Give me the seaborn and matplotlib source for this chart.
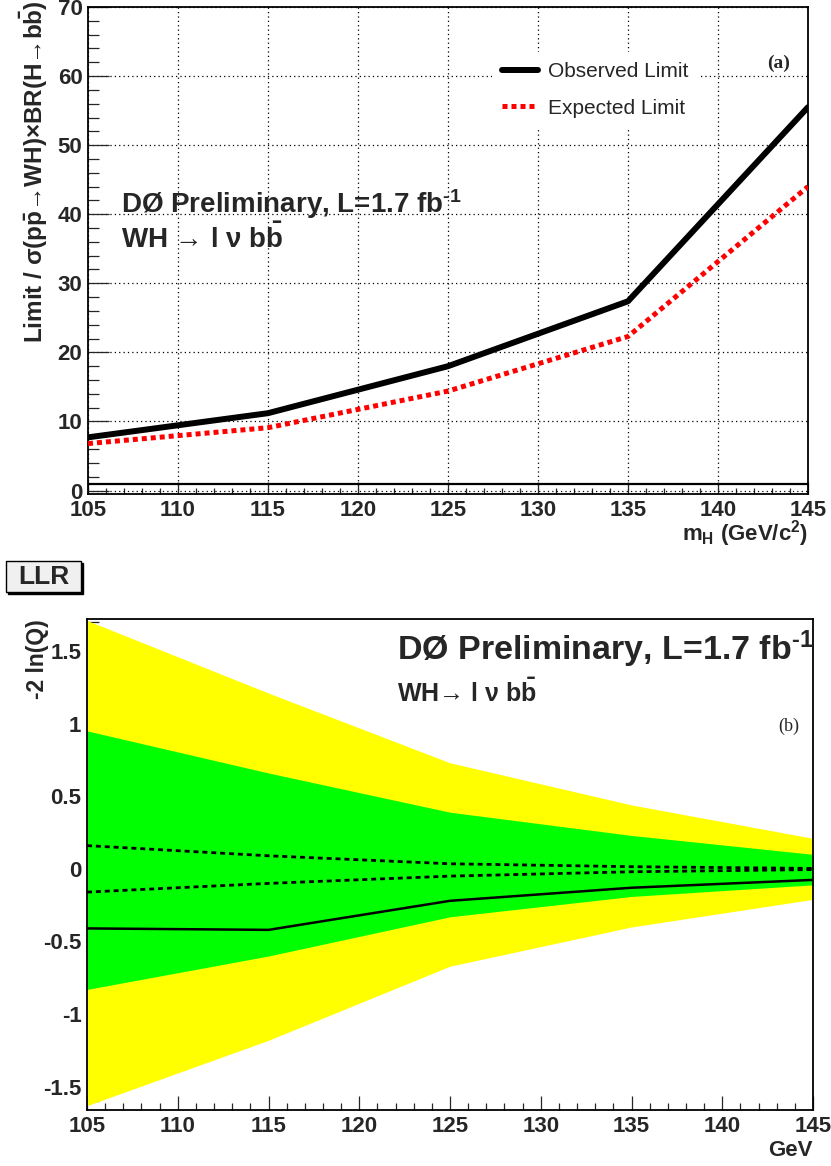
import numpy as np
import pandas as pd
import matplotlib
matplotlib.use("Agg")
import matplotlib.pyplot as plt
from matplotlib.patches import Rectangle
from matplotlib.ticker import MultipleLocator
import seaborn as sns

# Higgs masses (GeV)
mass = [105, 115, 125, 135, 145]

# (a) cross section limits / SM
observed_limit = [7.7, 11.2, 18.0, 27.4, 55.5]
expected_limit = [6.8, 9.1, 14.4, 22.3, 44.0]

# (b) LLR
llr_obs = [-0.41, -0.42, -0.22, -0.13, -0.076]
llr_bkg = [0.16, 0.09, 0.035, 0.015, 0.003]
llr_sb = [-0.16, -0.10, -0.05, -0.02, -0.005]
band1_lo = [-0.83, -0.60, -0.33, -0.19, -0.11]
band1_hi = [0.95, 0.66, 0.39, 0.23, 0.10]
band2_lo = [-1.63, -1.18, -0.67, -0.40, -0.21]
band2_hi = [1.71, 1.21, 0.73, 0.44, 0.21]

sns.set_style("ticks")
plt.rcParams["font.family"] = ["Liberation Sans", "DejaVu Sans"]
plt.rcParams["font.weight"] = "bold"
plt.rcParams["axes.labelweight"] = "bold"
plt.rcParams["mathtext.fontset"] = "custom"
plt.rcParams["mathtext.rm"] = "Liberation Sans:bold"
plt.rcParams["mathtext.it"] = "Liberation Sans:bold"
plt.rcParams["mathtext.bf"] = "Liberation Sans:bold"

W, H = 831, 1166
fig = plt.figure(figsize=(W / 100, H / 100), dpi=100)
ax1 = fig.add_axes([88 / W, 1 - 494 / H, 720 / W, 487 / H])
ax2 = fig.add_axes([87 / W, 1 - 1110 / H, 726 / W, 491 / H])

df = pd.DataFrame({"mass": mass, "obs": observed_limit, "exp": expected_limit})

# ---- top panel
ax1.grid(True, which="major", color="black", linestyle=(0, (1, 2.5)), linewidth=0.9)
ax1.set_axisbelow(True)
ax1.axhline(1, color="black", lw=1.6, zorder=2)
sns.lineplot(data=df, x="mass", y="obs", ax=ax1, color="black", lw=4.3,
             label="Observed Limit", zorder=4)
sns.lineplot(data=df, x="mass", y="exp", ax=ax1, color="#ff0000", lw=3.6,
             linestyle=(0, (1.0, 0.8)), label="Expected Limit", zorder=3)
ax1.set_xlim(105, 145)
ax1.set_ylim(-0.5, 70)
ax1.xaxis.set_major_locator(MultipleLocator(5))
ax1.xaxis.set_minor_locator(MultipleLocator(1))
ax1.yaxis.set_major_locator(MultipleLocator(10))
ax1.yaxis.set_minor_locator(MultipleLocator(2))
ax1.tick_params(axis="both", which="both", direction="in", width=0.9,
                labelsize=16, pad=4, top=False, right=False)
ax1.tick_params(axis="y", which="major", length=15)
ax1.tick_params(axis="y", which="minor", length=8)
ax1.tick_params(axis="x", which="major", length=9)
ax1.tick_params(axis="x", which="minor", length=4.5)
for s in ax1.spines.values():
    s.set_linewidth(1.3)
    s.set_color("black")

ax1.set_xlabel(r"m$_{\rm H}$ (GeV/c$^{2}$)", fontsize=16, loc="right")
ax1.xaxis.set_label_coords(1.0, -0.05)
ax1.set_ylabel(r"Limit / σ(p$\bar{\rm p}$→WH)×BR(H→b$\bar{\rm b}$)",
               fontsize=17.5, loc="top")
ax1.yaxis.set_label_coords(-0.053, 1.014)

leg = ax1.legend(loc="upper left", bbox_to_anchor=(0.546, 0.93), frameon=True,
                 facecolor="white", edgecolor="none", framealpha=1, fancybox=False,
                 handlelength=1.75, handletextpad=0.45, labelspacing=0.85,
                 borderpad=0.5, prop={"weight": "normal", "size": 15})

ax1.text(106.83, 40.2, r"DØ Preliminary, L=1.7 fb$^{\text{-1}}$", fontsize=20, va="baseline")
ax1.text(106.83, 35.1, r"WH → l ν b$\bar{\rm b}$", fontsize=20, va="baseline")
ax1.text(142.75, 61.9, "(a)", fontsize=14, va="center", family="Liberation Serif",
         weight="bold")

# ---- bottom panel
ax2.fill_between(mass, band2_lo, band2_hi, color="#ffff00", lw=0, zorder=1)
ax2.fill_between(mass, band1_lo, band1_hi, color="#00ff00", lw=0, zorder=2)
sns.lineplot(x=mass, y=llr_bkg, ax=ax2, color="black", lw=2.0,
             linestyle=(0, (1.8, 1.4)), zorder=3)
sns.lineplot(x=mass, y=llr_sb, ax=ax2, color="black", lw=2.0,
             linestyle=(0, (1.8, 1.4)), zorder=3)
sns.lineplot(x=mass, y=llr_obs, ax=ax2, color="black", lw=1.8, zorder=4)
ax2.set_xlim(105, 145)
ax2.set_ylim(-1.66, 1.72)
ax2.xaxis.set_major_locator(MultipleLocator(5))
ax2.xaxis.set_minor_locator(MultipleLocator(1))
ax2.yaxis.set_major_locator(MultipleLocator(0.5))
ax2.yaxis.set_minor_locator(MultipleLocator(0.1))
ax2.yaxis.set_major_formatter(plt.FuncFormatter(lambda v, p: f"{v:g}"))
ax2.tick_params(axis="both", which="both", direction="in", width=0.9,
                labelsize=16, pad=4, top=False, right=False)
ax2.tick_params(axis="y", which="major", length=16)
ax2.tick_params(axis="y", which="minor", length=8.5)
ax2.tick_params(axis="x", which="major", length=10)
ax2.tick_params(axis="x", which="minor", length=5)
for s in ax2.spines.values():
    s.set_linewidth(1.3)
    s.set_color("black")
ax2.set_xlabel("GeV", fontsize=16, loc="right")
ax2.xaxis.set_label_coords(1.0, -0.061)
ax2.set_ylabel("-2 ln(Q)", fontsize=16.5, loc="top")
ax2.yaxis.set_label_coords(-0.053, 1.0)

ax2.text(122.1, 1.44, r"DØ Preliminary, L=1.7 fb$^{\text{-1}}$", fontsize=24.5, va="baseline")
ax2.text(122.1, 1.15, r"WH→ l ν b$\bar{\rm b}$", fontsize=18, va="baseline")
ax2.text(143.07, 0.98, "(b)", fontsize=13, va="center", family="Liberation Serif",
         weight="normal")

# LLR title box with shadow
fig.add_artist(Rectangle((8 / W, 1 - 594 / H), 75 / W, 31 / H, transform=fig.transFigure,
                         facecolor="black", edgecolor="black", lw=1))
fig.add_artist(Rectangle((6 / W, 1 - 592 / H), 75 / W, 31 / H, transform=fig.transFigure,
                         facecolor="#f0f0f0", edgecolor="black", lw=1))
fig.text(43.5 / W, 1 - 576.5 / H, "LLR", fontsize=19, ha="center", va="center")

fig.savefig("out.png", dpi=100)
